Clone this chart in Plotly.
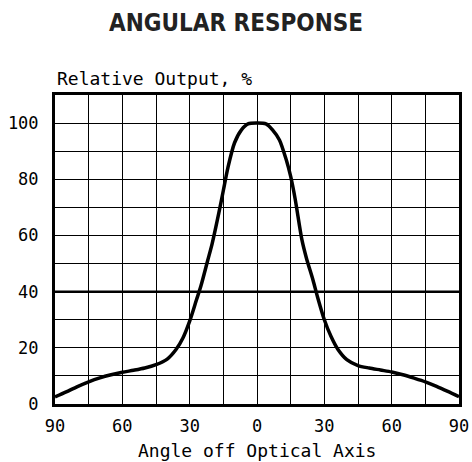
import plotly.graph_objects as go

angles = [-90, -85, -80, -75, -70, -65, -60, -55, -50, -45, -40, -36, -33, -30, -27, -25, -22, -20, -17, -15, -13, -10, -7, -4, 0,
          4, 7, 10, 13, 15, 17, 20, 22, 25, 27, 30, 33, 36, 40, 45, 50, 55, 60, 65, 70, 75, 80, 85, 90]
output = [2.5, 4.3, 6.2, 7.9, 9.3, 10.4, 11.3, 12.0, 12.8, 14.0, 16.0, 19.5, 23.5, 29.5, 37.0, 42.0, 51.0, 57.0, 68.0, 76.0, 84.0, 93.0, 97.5, 99.7, 100.0,
          99.7, 97.5, 94.0, 87.0, 81.0, 73.0, 58.5, 52.0, 44.0, 38.0, 30.0, 24.0, 19.5, 15.8, 13.7, 12.8, 12.1, 11.4, 10.4, 9.2, 7.9, 6.3, 4.5, 2.6]

x_tickvals = [-90, -60, -30, 0, 30, 60, 90]
x_ticktext = ["90", "60", "30", "0", "30", "60", "90"]
y_tickvals = [0, 20, 40, 60, 80, 100]

title_text = "ANGULAR RESPONSE"
y_title = "Relative Output, %"
x_title = "Angle off Optical Axis"

mono = "DejaVu Sans Mono"

fig = go.Figure()
fig.add_trace(go.Scatter(x=angles, y=output, mode="lines",
                         line=dict(color="black", width=3.5, shape="spline", smoothing=0.8),
                         hoverinfo="skip", showlegend=False))

fig.add_shape(type="line", xref="paper", x0=0, x1=1, yref="y", y0=40, y1=40,
              line=dict(color="black", width=2.5), layer="below")

fig.update_layout(
    width=472, height=462,
    margin=dict(l=55, r=13, t=95, b=58, autoexpand=False),
    paper_bgcolor="white", plot_bgcolor="white",
    showlegend=False,
    title=dict(text="<b>" + title_text + "</b>", x=0.5, xanchor="center", y=1 - 23 / 462, yanchor="middle",
               yref="container", pad=dict(t=0), automargin=False,
               font=dict(family="Liberation Sans Narrow, DejaVu Sans Condensed, Arial Narrow, sans-serif",
                         size=24, color="#222")),
    xaxis=dict(range=[-90, 90], tickvals=x_tickvals, ticktext=x_ticktext,
               showgrid=True, gridcolor="black", gridwidth=1,
               minor=dict(dtick=15, tick0=0, showgrid=True, gridcolor="black", gridwidth=1),
               showline=True, linecolor="black", linewidth=3, mirror=True,
               ticks="", ticklabelstandoff=5, zeroline=False, automargin=False,
               tickfont=dict(family=mono, size=17, color="black")),
    yaxis=dict(range=[0, 110], tickvals=y_tickvals,
               showgrid=True, gridcolor="black", gridwidth=1,
               minor=dict(dtick=10, tick0=0, showgrid=True, gridcolor="black", gridwidth=1),
               showline=True, linecolor="black", linewidth=3, mirror=True,
               ticks="", ticklabelstandoff=10, zeroline=False, automargin=False,
               tickfont=dict(family=mono, size=17, color="black")),
    annotations=[
        dict(text=y_title, xref="paper", yref="paper", x=0, y=1, xanchor="left", yanchor="bottom",
             yshift=4, showarrow=False, font=dict(family=mono, size=18, color="black")),
        dict(text=x_title, xref="paper", yref="paper", x=0.5, y=0, xanchor="center", yanchor="top",
             yshift=-34, showarrow=False, font=dict(family=mono, size=18, color="black")),
    ],
)

fig.write_html("out.html", config={"displayModeBar": False},
               post_script="document.body.style.margin='0';document.body.style.overflow='hidden';")
